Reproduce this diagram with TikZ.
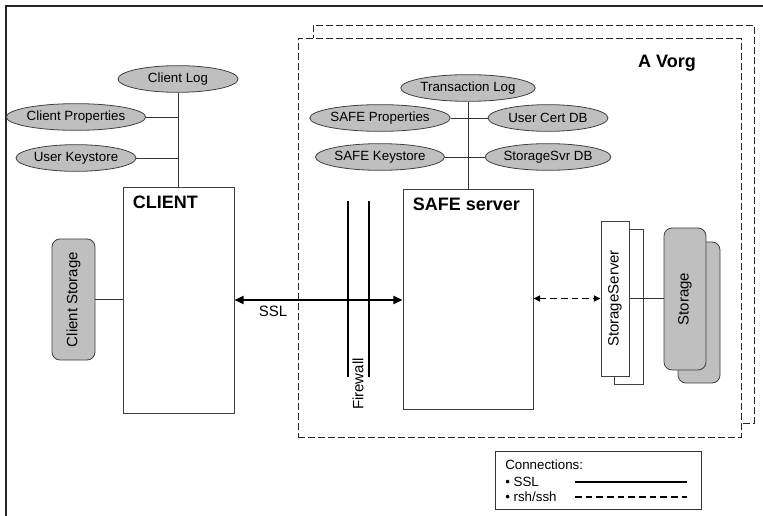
\documentclass[tikz,border=0pt]{standalone}
\usepackage{fontspec}
\setmainfont{Liberation Sans}
\usetikzlibrary{arrows.meta,fit,shapes.geometric}
\begin{document}
\begin{tikzpicture}[x=0.75pt,y=-0.75pt,
  ell/.style={ellipse, draw=black!75, fill=black!25, line width=0.6pt, minimum width=90pt, minimum height=20pt, inner sep=0pt, font=\fontsize{10}{12}\selectfont},
  box/.style={draw=black!75, fill=white, line width=0.6pt, inner sep=0pt},
  gbox/.style={draw=black!75, fill=black!25, line width=0.6pt, inner sep=0pt, rounded corners=6pt},
  title/.style={font=\fontsize{13.5}{16}\selectfont\bfseries, anchor=north west, inner sep=0pt},
  vtext/.style={font=\fontsize{11.25}{13}\selectfont, rotate=90, inner sep=0pt},
  conn/.style={draw=black!80, line width=0.6pt},
  thick line/.style={line width=2.2pt, black},
  region/.style={draw=black!85, dash pattern=on 5pt off 2.5pt, line width=0.7pt},
  tip/.style={-{Triangle[length=6pt,width=5pt]}},
  legtext/.style={font=\fontsize{10}{12}\selectfont, anchor=west, inner sep=0pt}
]
\useasboundingbox (0,0) rectangle (763,516);
% outer frame
\coordinate (frTR) at (763,6);
\coordinate (frTL) at (6,6);
\coordinate (frBL) at (6,516);
\draw[line width=1.6pt, black!85] (frTR) -- (frTL) -- (frBL);

% dashed regions
\node[region, fit={(313,25) (754,423)}, inner sep=0pt] (vorgback) {};
\node[region, fill=white, fit={(298,38) (741,437)}, inner sep=0pt] (vorg) {};
\node[font=\fontsize{13.5}{16}\selectfont\bfseries] (vorglabel) at (667,63) {A Vorg};

% client side
\node[box, fit={(123,187) (234,413)}] (client) {};
\node[title] (clienttitle) at ([shift={(10,9)}]client.north west) {CLIENT};
\node[ell] (clog) at (178,79) {Client Log};
\node[ell] (cprop) at (76,117) {Client Properties};
\node[ell] (ukey) at (76,158) {User Keystore};
\draw[conn] (clog.south) -- (clog.south |- client.north);
\draw[conn] (cprop.east) -- (cprop.east -| clog.south);
\draw[conn] (ukey.east) -- (ukey.east -| clog.south);

\node[gbox, fit={(52,239) (95,360)}] (cstor) {};
\node[vtext] (cstorlabel) at (cstor.center) {Client Storage};
\draw[conn] (cstor.east) -- (cstor.east -| client.west);

% safe server
\node[box, fit={(403,189) (533,409)}] (safe) {};
\node[title] (safetitle) at ([shift={(10,9)}]safe.north west) {SAFE server};
\node[ell] (tlog) at (468,88) {Transaction Log};
\node[ell] (sprop) at (380,118) {SAFE Properties};
\node[ell] (ucert) at (548,118) {User Cert DB};
\node[ell] (skey) at (380,157) {SAFE Keystore};
\node[ell] (ssdb) at (548,157) {StorageSvr DB};
\draw[conn] (tlog.south) -- (tlog.south |- safe.north);
\draw[conn] (sprop.east) -- (ucert.west);
\draw[conn] (skey.east) -- (ssdb.west);

% SSL connection
\draw[line width=1.6pt, {Triangle[length=7pt,width=6pt]}-{Triangle[length=7pt,width=6pt]}] (client.east |- 0,300) -- (safe.west |- 0,300);
\node[font=\fontsize{11.25}{13}\selectfont] (ssllabel) at (273,311) {SSL};

% firewall
\coordinate (fw1t) at (348,201);
\coordinate (fw1b) at (348,377);
\coordinate (fw2t) at (369,201);
\coordinate (fw2b) at (369,377);
\draw[thick line] (fw1t) -- (fw1b);
\draw[thick line] (fw2t) -- (fw2b);
\node[vtext] (fwlabel) at (358,384) {Firewall};

% storage server
\node[box, fit={(614,229) (643,384)}] (ssback) {};
\node[box, fit={(601,221) (629,376)}] (ss) {};
\node[vtext] (sslabel) at (ss.center) {StorageServer};
\node[gbox, fit={(678,242) (720,383)}] (storback) {};
\node[gbox, fit={(664,228) (706,370)}] (stor) {};
\node[vtext] (storlabel) at (stor.center) {Storage};
\draw[conn] (ss.east) -- (ss.east -| stor.west);

\draw[line width=1.1pt, dash pattern=on 5pt off 3pt, {Triangle[length=5pt,width=4.5pt]}-{Triangle[length=5pt,width=4.5pt]}] (safe.east |- ss.west) -- (ss.west);

% legend
\node[draw=black!80, line width=0.7pt, fit={(495,451) (701,509)}, inner sep=0pt] (legend) {};
\node[legtext] (leg1) at (505,465) {Connections:};
\node[legtext] (leg2) at (505,482) {• SSL};
\node[legtext] (leg3) at (505,497) {• rsh/ssh};
\coordinate (l1a) at (575,482);
\coordinate (l1b) at (687,482);
\coordinate (l2a) at (575,497);
\coordinate (l2b) at (687,497);
\draw[line width=1.6pt] (l1a) -- (l1b);
\draw[line width=0.9pt, dash pattern=on 5pt off 3pt] (l2a) -- (l2b);
\end{tikzpicture}
\end{document}
